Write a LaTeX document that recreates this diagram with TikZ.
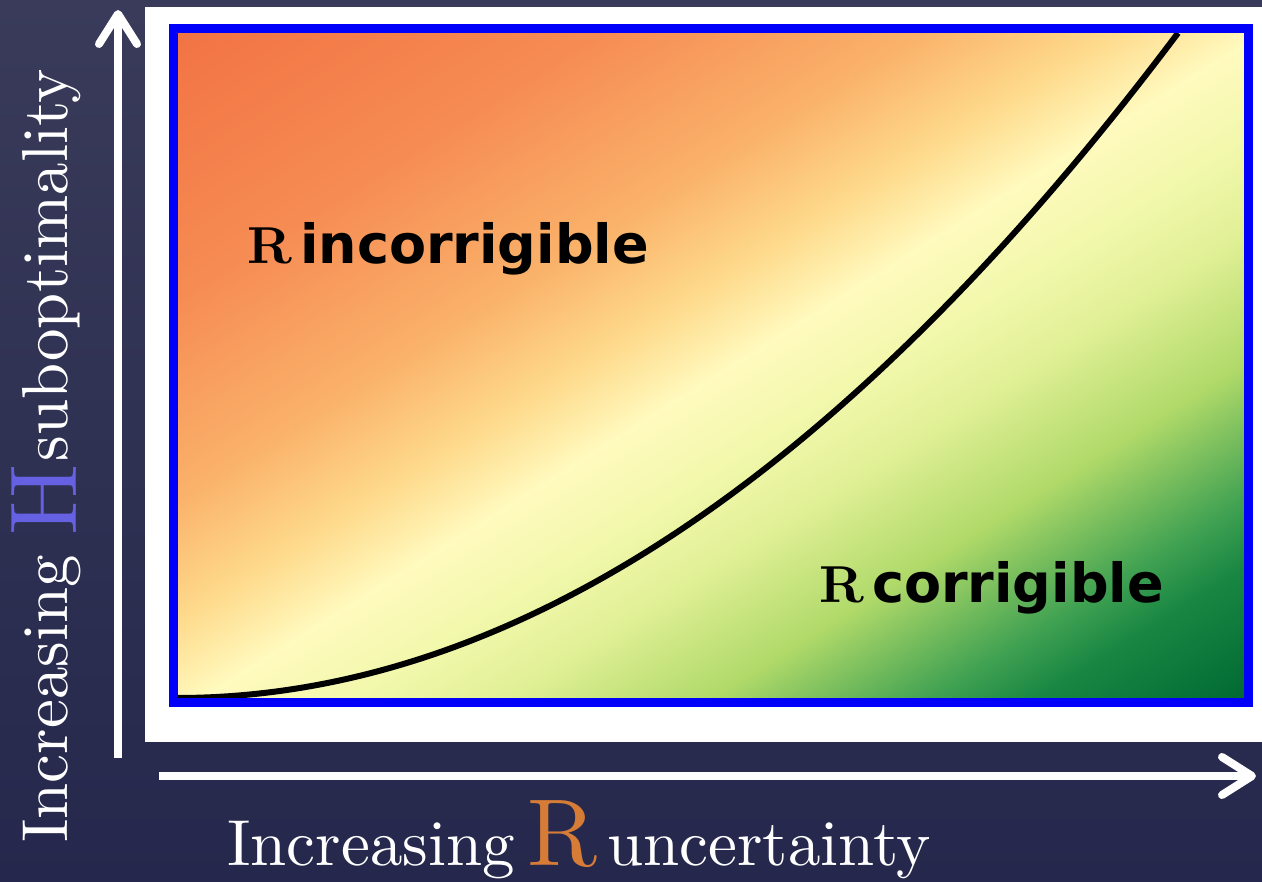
\documentclass[tikz,border=0pt]{standalone}
\usepackage{fontspec}
\newfontfamily\labelsans{DejaVu Sans}
\newfontfamily\axisfont{lmroman10-regular.otf}
\newfontfamily\regionserif{lmroman10-bold.otf}
\usetikzlibrary{arrows.meta,calc}

\definecolor{slatetop}{RGB}{58,59,90}
\definecolor{slatebot}{RGB}{37,40,76}
\definecolor{rorange}{RGB}{214,124,55}
\definecolor{hviolet}{RGB}{102,96,226}
\definecolor{frameblue}{RGB}{0,0,250}
% colour stops of the plot area, top left to bottom right
\definecolor{cs0}{RGB}{242,115,68}
\definecolor{cs1}{RGB}{246,140,84}
\definecolor{cs2}{RGB}{250,178,106}
\definecolor{cs3}{RGB}{254,218,140}
\definecolor{cs4}{RGB}{255,250,190}
\definecolor{cs5}{RGB}{242,248,172}
\definecolor{cs6}{RGB}{225,240,150}
\definecolor{cs7}{RGB}{175,217,105}
\definecolor{cs8}{RGB}{65,162,82}
\definecolor{cs9}{RGB}{25,135,67}
\definecolor{cs10}{RGB}{0,105,50}
\pgfdeclarehorizontalshading{corrshade}{100bp}{color(0bp)=(cs0); color(25bp)=(cs0);
  color(35bp)=(cs1); color(42.5bp)=(cs2); color(47bp)=(cs3); color(50.5bp)=(cs4);
  color(54bp)=(cs5); color(57.5bp)=(cs6); color(62.5bp)=(cs7); color(67.5bp)=(cs8);
  color(70bp)=(cs9); color(75bp)=(cs10); color(100bp)=(cs10)}

\begin{document}
\begin{tikzpicture}[x=1pt,y=-1pt,
  axis/.style={white,line width=8pt,-{Straight Barb[length=30pt,width=38pt,round]}},
  axislabel/.style={white,inner sep=0pt,anchor=base west,font=\axisfont\fontsize{65}{65}\selectfont},
  regionlabel/.style={black,inner sep=0pt,anchor=base west}]
 \useasboundingbox (0,0) rectangle (1262,882);
 \fill[top color=slatetop,bottom color=slatebot] (0,0) rectangle (1262,882);
 \fill[white] (145,7) rectangle (1262,742);
 % plot area
 \coordinate (sw) at (173.5,702.5);
 \coordinate (ne) at (1248,28.5);
 \coordinate (mid) at ($(sw)!0.5!(ne)$);
 \begin{scope}
  \clip (sw) rectangle (ne);
  \shade[shading=corrshade,transform canvas={rotate around={-57.9:(mid)}}]
    ($(mid)+(-567,-640)$) rectangle ($(mid)+(567,640)$);
 \end{scope}
 % boundary curve (a parabola)
 \coordinate (c0) at (177,698);
 \coordinate (cone) at (511,698);
 \coordinate (ctwo) at (845,476);
 \coordinate (ctop) at (1178,33);
 \draw[line width=6pt] (c0) .. controls (cone) and (ctwo) .. (ctop);
 \draw[frameblue,line width=9pt] (sw) rectangle (ne);
 \node[regionlabel] (incorr) at (247,264) {{\regionserif\fontsize{52}{52}\selectfont R}\hspace{8pt}{\labelsans\bfseries\fontsize{54}{54}\selectfont incorrigible}};
 \node[regionlabel] (corr) at (819,602) {{\regionserif\fontsize{52}{52}\selectfont R}\hspace{8pt}{\labelsans\bfseries\fontsize{54}{54}\selectfont corrigible}};
 % axes
 \coordinate (yfoot) at (118,758);
 \coordinate (ytip) at (118,10);
 \coordinate (xfoot) at (159,776);
 \coordinate (xtip) at (1256,776);
 \draw[axis] (yfoot) -- (ytip);
 \draw[axis] (xfoot) -- (xtip);
 \node[axislabel] (xlab) at (227,865) {Increasing\hspace{0.2em}{\color{rorange}\fontsize{95}{95}\selectfont R}\hspace{0.15em}uncertainty};
 \node[axislabel,rotate=90] (ylab) at (67,843) {Increasing\hspace{0.3em}\raisebox{-9pt}{\color{hviolet}\fontsize{95}{95}\selectfont H}\hspace{0.05em}suboptimality};
\end{tikzpicture}
\end{document}
